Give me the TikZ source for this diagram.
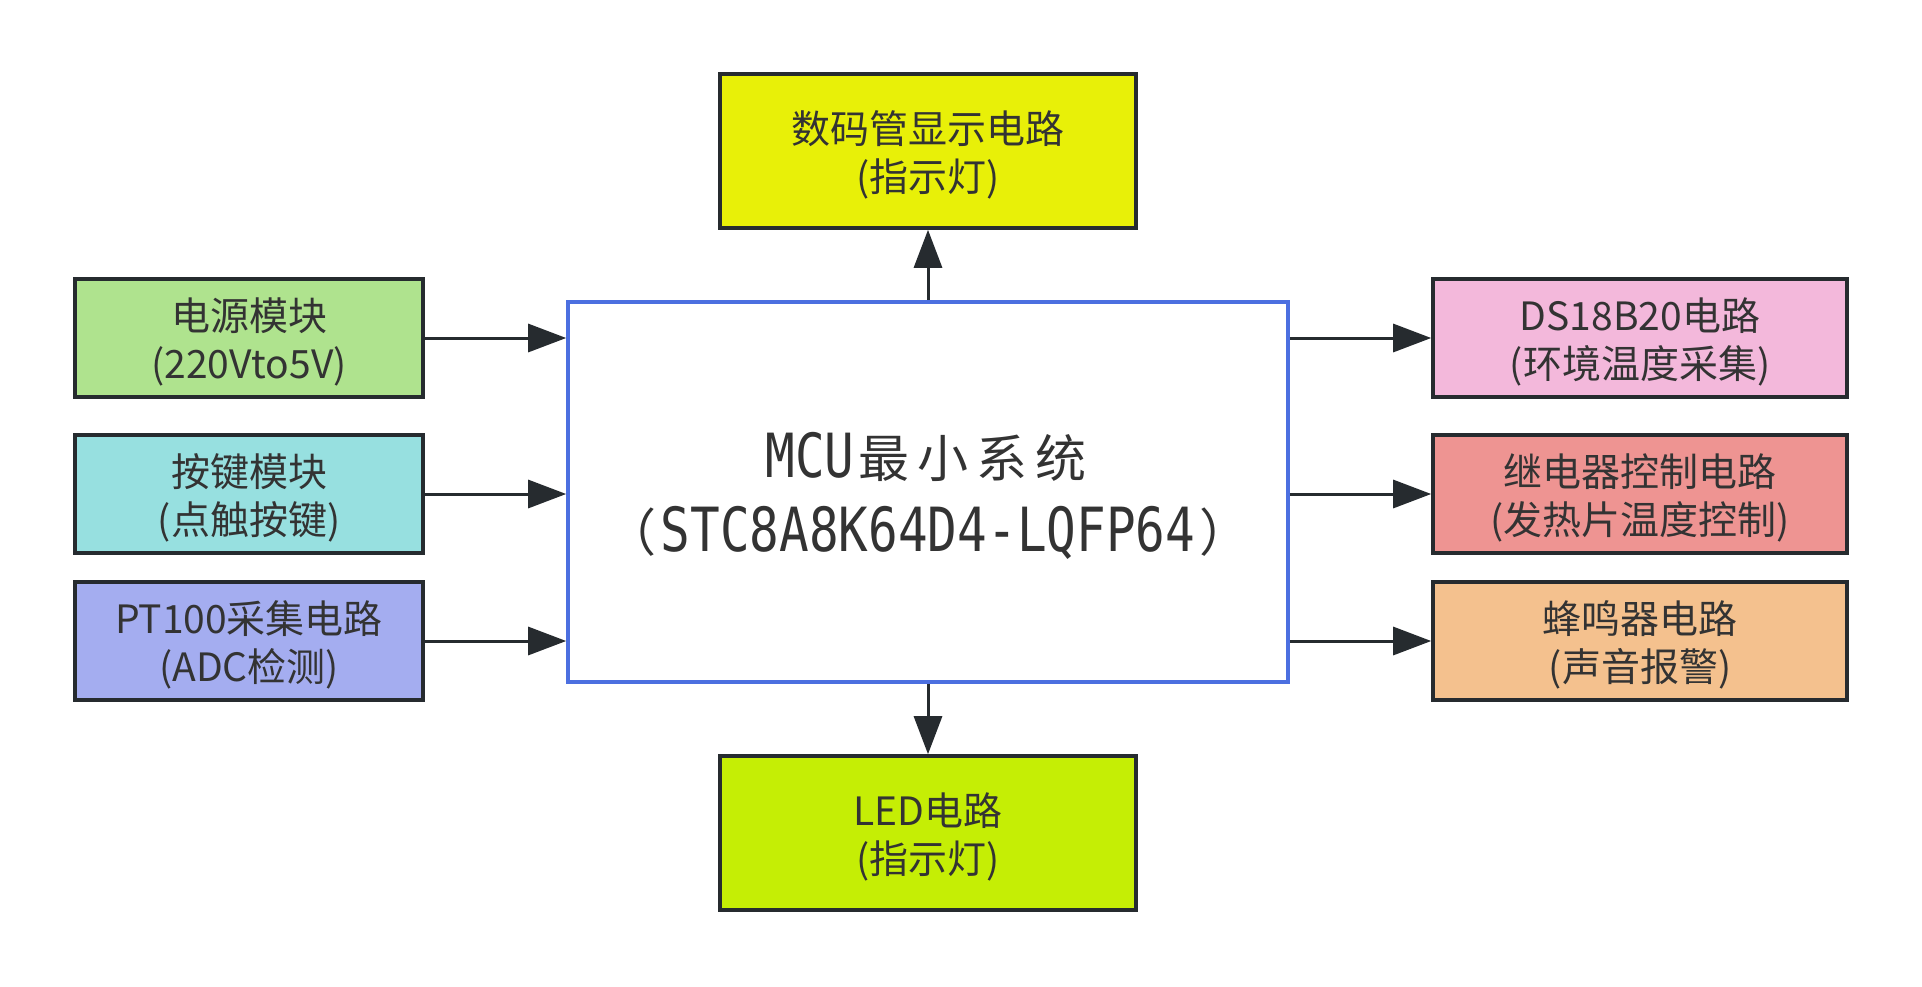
\documentclass[tikz,border=0pt]{standalone}
\usepackage{fontspec}
\setmainfont{Noto Sans CJK SC}
\newfontfamily\latmono{DejaVu Sans Mono}
\usetikzlibrary{arrows.meta}
\definecolor{topc}{RGB}{232,240,8}
\definecolor{botc}{RGB}{197,238,5}
\definecolor{greenc}{RGB}{175,227,142}
\definecolor{cyanc}{RGB}{151,224,224}
\definecolor{lavc}{RGB}{164,173,240}
\definecolor{pinkc}{RGB}{243,184,219}
\definecolor{salmc}{RGB}{238,148,146}
\definecolor{peachc}{RGB}{244,193,142}
\definecolor{bluec}{RGB}{76,111,224}
\definecolor{linec}{RGB}{38,43,47}
\definecolor{txtc}{RGB}{51,51,51}
\newcommand{\mcch}[1]{\makebox[29.5pt]{\fontsize{25.5pt}{25.5pt}\selectfont #1}}
\newcommand{\mclat}[1]{\scalebox{0.85}[1.05]{\latmono #1}}
\begin{document}
\begin{tikzpicture}[x=0.5pt,y=-0.5pt,
  box/.style={draw=linec, line width=1.8pt, inner sep=0pt},
  boxtext/.style={inner sep=0pt, align=center, text=txtc, font=\fontsize{19.5pt}{24pt}\selectfont},
  sidebox/.style={box, minimum width=174pt, minimum height=59pt},
  rbox/.style={box, minimum width=207pt, minimum height=59pt},
  tbbox/.style={box, minimum width=208pt, minimum height=77pt},
  mainbox/.style={draw=bluec, line width=1.8pt, fill=white, inner sep=0pt,
    minimum width=360pt, minimum height=190pt},
  maintext/.style={inner sep=0pt, align=center, text=txtc, font=\fontsize{29pt}{37pt}\selectfont},
  arr/.style={draw=linec, line width=1.5pt, -{Triangle[length=19pt,width=14pt]}}]
\useasboundingbox (0,0) rectangle (1922,986);
\fill[white] (0,0) rectangle (1922,986);

\node[mainbox] (main) at (928,492) {};
\node[maintext] (maint) at (928,496) {\mclat{MCU}\mcch{最}\mcch{小}\mcch{系}\mcch{统}\\
  \mcch{（}\mclat{STC8A8K64D4-LQFP64}\mcch{）}};

\node[tbbox, fill=topc] (top) at (928,151) {};
\node[tbbox, fill=botc] (bot) at (928,833) {};
\node[sidebox, fill=greenc] (l1) at (249,338) {};
\node[sidebox, fill=cyanc] (l2) at (249,494) {};
\node[sidebox, fill=lavc] (l3) at (249,641) {};
\node[rbox, fill=pinkc] (r1) at (1640,338) {};
\node[rbox, fill=salmc] (r2) at (1640,494) {};
\node[rbox, fill=peachc] (r3) at (1640,641) {};

\node[boxtext, yshift=-1.8pt] (topt) at (top) {数码管显示电路\\(指示灯)};
\node[boxtext, yshift=-1.8pt] (bott) at (bot) {LED电路\\(指示灯)};
\node[boxtext, yshift=-1.8pt] (l1t) at (l1) {电源模块\\(220Vto5V)};
\node[boxtext, yshift=-1.8pt] (l2t) at (l2) {按键模块\\(点触按键)};
\node[boxtext, yshift=-1.8pt] (l3t) at (l3) {PT100采集电路\\(ADC检测)};
\node[boxtext, yshift=-1.8pt] (r1t) at (r1) {DS18B20电路\\(环境温度采集)};
\node[boxtext, yshift=-1.8pt] (r2t) at (r2) {继电器控制电路\\(发热片温度控制)};
\node[boxtext, yshift=-1.8pt] (r3t) at (r3) {蜂鸣器电路\\(声音报警)};

\draw[arr] (main.north) -- (top.south);
\draw[arr] (main.south) -- (bot.north);
\foreach \n in {l1,l2,l3} \draw[arr] (\n.east) -- (\n.east -| main.west);
\foreach \n in {r1,r2,r3} \draw[arr] (\n.west -| main.east) -- (\n.west);
\end{tikzpicture}
\end{document}
